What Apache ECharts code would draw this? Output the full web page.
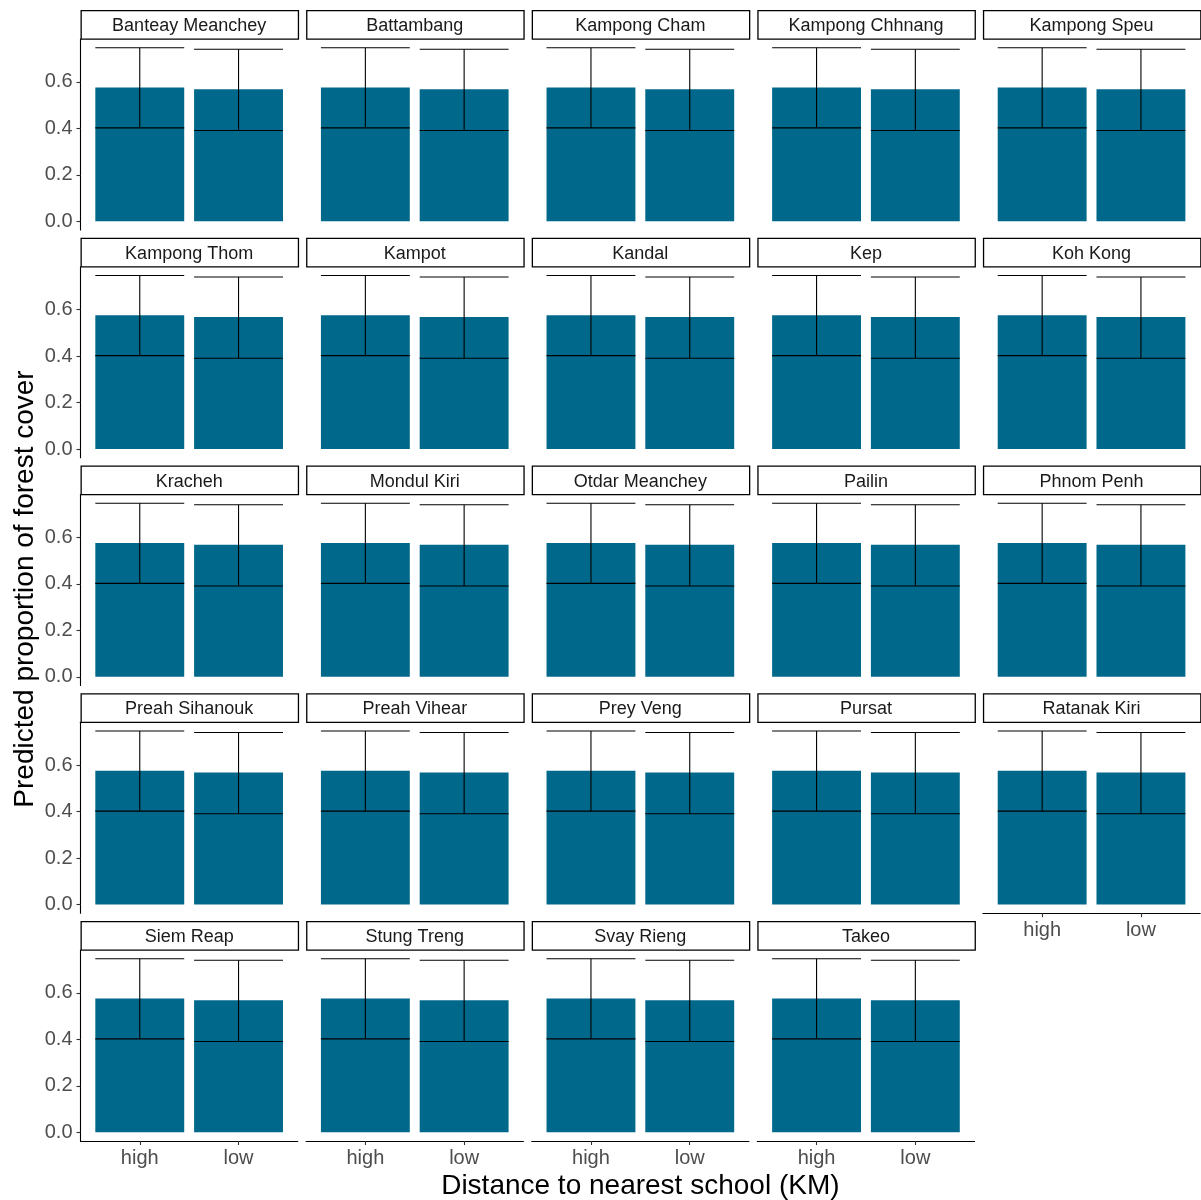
<!DOCTYPE html>
<html>
<head>
<meta charset="utf-8">
<script src="https://cdn.jsdelivr.net/npm/echarts@6/dist/echarts.min.js"></script>
<style>html,body{margin:0;padding:0;background:#fff}#c{width:1201px;height:1200px}</style>
</head>
<body>
<div id="c"></div>
<script>
const provinces = ['Banteay Meanchey','Battambang','Kampong Cham','Kampong Chhnang','Kampong Speu',
  'Kampong Thom','Kampot','Kandal','Kep','Koh Kong',
  'Kracheh','Mondul Kiri','Otdar Meanchey','Pailin','Phnom Penh',
  'Preah Sihanouk','Preah Vihear','Prey Veng','Pursat','Ratanak Kiri',
  'Siem Reap','Stung Treng','Svay Rieng','Takeo'];
const groups = ['high', 'low'];
const meanHigh  = [0.576,0.576,0.576,0.576,0.576,0.576,0.576,0.576,0.576,0.576,0.576,0.576,0.576,0.576,0.576,0.576,0.576,0.576,0.576,0.576,0.576,0.576,0.576,0.576];
const lowerHigh = [0.402,0.402,0.402,0.402,0.402,0.402,0.402,0.402,0.402,0.402,0.402,0.402,0.402,0.402,0.402,0.402,0.402,0.402,0.402,0.402,0.402,0.402,0.402,0.402];
const upperHigh = [0.747,0.747,0.747,0.747,0.747,0.747,0.747,0.747,0.747,0.747,0.747,0.747,0.747,0.747,0.747,0.747,0.747,0.747,0.747,0.747,0.747,0.747,0.747,0.747];
const meanLow   = [0.568,0.568,0.568,0.568,0.568,0.568,0.568,0.568,0.568,0.568,0.568,0.568,0.568,0.568,0.568,0.568,0.568,0.568,0.568,0.568,0.568,0.568,0.568,0.568];
const lowerLow  = [0.391,0.391,0.391,0.391,0.391,0.391,0.391,0.391,0.391,0.391,0.391,0.391,0.391,0.391,0.391,0.391,0.391,0.391,0.391,0.391,0.391,0.391,0.391,0.391];
const upperLow  = [0.740,0.740,0.740,0.740,0.740,0.740,0.740,0.740,0.740,0.740,0.740,0.740,0.740,0.740,0.740,0.740,0.740,0.740,0.740,0.740,0.740,0.740,0.740,0.740];
const yTicks = [0, 0.2, 0.4, 0.6];

const FONT = 'Liberation Sans, Arial, sans-serif';
const BAR = '#00688B';
const ncol = 5;
const left0 = 80.5, colStep = 225.6, panelW = 217.3;
const top0 = 39, rowStep = 227.75, panelH = 191, stripH = 28.5;

const allUp = upperHigh.concat(upperLow);
const yMaxData = Math.max.apply(null, allUp);
const yMin = -0.05 * yMaxData, yMax = yMaxData * 1.05;

const grids = [], xAxes = [], yAxes = [], series = [], graphics = [];
const barWidthUnits = 0.9;

provinces.forEach((name, i) => {
  const r = Math.floor(i / ncol), c = i % ncol;
  const gl = left0 + c * colStep, gt = top0 + r * rowStep;
  grids.push({ left: gl, top: gt, width: panelW, height: panelH, containLabel: false });
  const bottom = i + ncol >= provinces.length;
  const leftCol = c === 0;
  xAxes.push({
    gridIndex: i, type: 'value', min: 0.4, max: 2.6, show: bottom,
    axisLine: { show: true, onZero: false, lineStyle: { color: '#000', width: 1.1 } },
    axisTick: { show: true, customValues: [1, 2], length: 4, lineStyle: { color: '#333', width: 1.1 } },
    axisLabel: { show: true, customValues: [1, 2], formatter: v => groups[Math.round(v) - 1], color: '#4D4D4D', fontSize: 20, fontFamily: FONT, margin: 7 },
    splitLine: { show: false }
  });
  yAxes.push({
    gridIndex: i, type: 'value', min: yMin, max: yMax, show: leftCol,
    axisLine: { show: true, onZero: false, lineStyle: { color: '#000', width: 1.1 } },
    axisTick: { show: true, customValues: yTicks, length: 4, lineStyle: { color: '#333', width: 1.1 } },
    axisLabel: { show: true, customValues: yTicks, formatter: v => v.toFixed(1), color: '#4D4D4D', fontSize: 20, fontFamily: FONT, margin: 8, padding: [4, 0, 0, 0] },
    splitLine: { show: false }
  });
  const data = [
    [1, meanHigh[i], lowerHigh[i], upperHigh[i]],
    [2, meanLow[i], lowerLow[i], upperLow[i]]
  ];
  series.push({
    type: 'custom', xAxisIndex: i, yAxisIndex: i, data: data, silent: true, z: 2,
    renderItem: (params, api) => {
      const x = api.value(0), y = api.value(1);
      const p0 = api.coord([x - barWidthUnits / 2, 0]);
      const p1 = api.coord([x + barWidthUnits / 2, y]);
      return { type: 'rect', shape: { x: p0[0], y: p1[1], width: p1[0] - p0[0], height: p0[1] - p1[1] }, style: { fill: BAR } };
    }
  });
  series.push({
    type: 'custom', xAxisIndex: i, yAxisIndex: i, data: data, silent: true, z: 3,
    renderItem: (params, api) => {
      const x = api.value(0), lo = api.value(2), hi = api.value(3);
      const a = api.coord([x - barWidthUnits / 2, lo]);
      const b = api.coord([x + barWidthUnits / 2, hi]);
      const m = api.coord([x, lo]);
      const st = { stroke: '#000', lineWidth: 1.1 };
      return { type: 'group', children: [
        { type: 'line', shape: { x1: a[0], y1: a[1], x2: b[0], y2: a[1] }, style: st },
        { type: 'line', shape: { x1: a[0], y1: b[1], x2: b[0], y2: b[1] }, style: st },
        { type: 'line', shape: { x1: m[0], y1: a[1], x2: m[0], y2: b[1] }, style: st }
      ] };
    }
  });
  graphics.push({
    type: 'rect', left: gl, top: gt - stripH - 0.5,
    shape: { width: panelW, height: stripH },
    style: { fill: '#fff', stroke: '#000', lineWidth: 1.3 }
  });
  graphics.push({
    type: 'text', x: gl + panelW / 2, y: gt - stripH / 2 + 1.5,
    style: { text: name, fill: '#1A1A1A', font: '18px ' + FONT, textAlign: 'center', textVerticalAlign: 'middle' }
  });
});

graphics.push({
  type: 'text', x: (left0 + left0 + 4 * colStep + panelW) / 2, y: 1186,
  style: { text: 'Distance to nearest school (KM)', fill: '#000', font: '28px ' + FONT, textAlign: 'center', textVerticalAlign: 'middle' }
});
graphics.push({
  type: 'text', x: 25, y: 589, rotation: Math.PI / 2,
  style: { text: 'Predicted proportion of forest cover', fill: '#000', font: '28px ' + FONT, textAlign: 'center', textVerticalAlign: 'middle' }
});

const chart = echarts.init(document.getElementById('c'), null, { renderer: 'canvas' });
chart.setOption({
  animation: false,
  backgroundColor: '#fff',
  grid: grids, xAxis: xAxes, yAxis: yAxes, series: series, graphic: graphics
});
</script>
</body>
</html>
